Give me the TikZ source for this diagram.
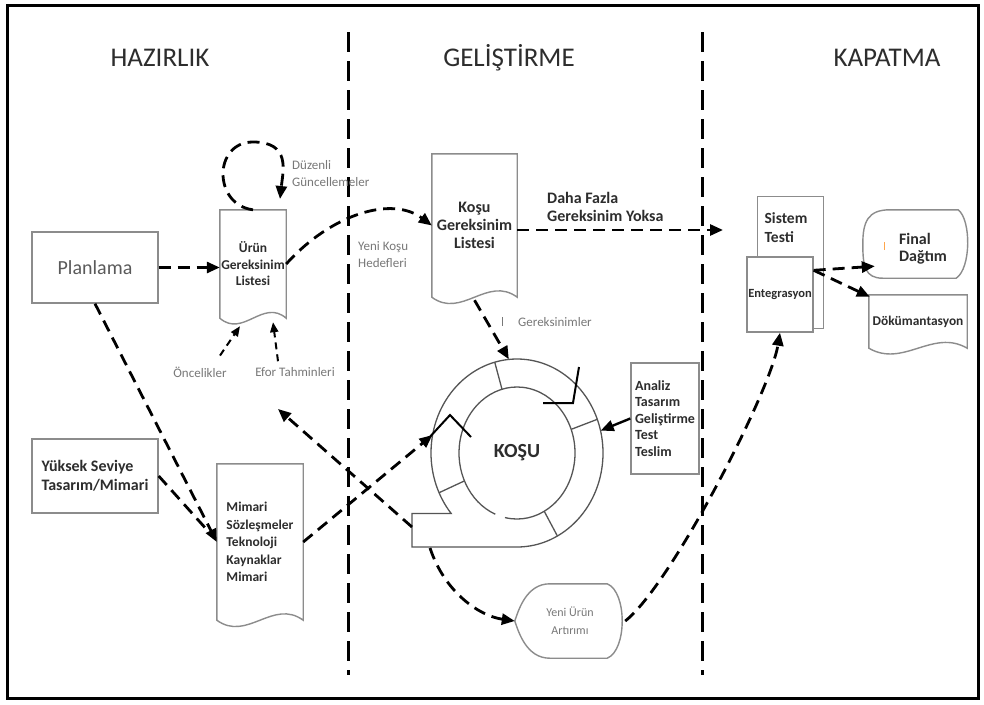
\documentclass[tikz,border=0pt]{standalone}
\usepackage{fontspec}
\setmainfont{Carlito}
\usetikzlibrary{arrows.meta,calc,shapes.geometric}

\definecolor{edge}{RGB}{140,140,140}
\definecolor{labelgray}{RGB}{120,120,120}
\definecolor{ink}{RGB}{45,45,45}
\definecolor{ringc}{RGB}{85,85,85}
\definecolor{plang}{RGB}{90,90,90}

\newcommand\szf[2]{\fontsize{#1}{#2}\selectfont}

% document symbol: straight sides, wavy bottom edge
\newcommand\docoutline[2]{%
  \draw[boxline] (#1.south west) -- (#1.north west) -- (#1.north east) -- (#1.south east)
    .. controls ($(#1.south east)!0.35!(#1.south west)+(0,-#2)$) and ($(#1.south east)!0.65!(#1.south west)+(0,#2)$) .. (#1.south west) -- cycle;}

\tikzset{
  flow/.style={line width=2.8pt, dash pattern=on 12pt off 7pt, -{Triangle[length=13pt,width=11pt]}},
  flowplain/.style={line width=2.8pt, dash pattern=on 12pt off 7pt},
  thinflow/.style={line width=2pt, dash pattern=on 7pt off 5pt, -{Triangle[length=10pt,width=8pt]}},
  solidflow/.style={line width=2.4pt, -{Triangle[length=13pt,width=11pt]}},
  divider/.style={line width=3pt, dash pattern=on 20pt off 9pt},
  boxline/.style={draw=edge, line width=1.4pt},
  box/.style={boxline, rectangle, inner sep=0pt},
  plain/.style={draw=none, rectangle, inner sep=0pt},
  heading/.style={font=\szf{27}{32}, text=ink, anchor=base},
  note/.style={font=\szf{13}{17}, text=labelgray, inner sep=0pt, align=left},
  ringline/.style={draw=ringc, line width=1.3pt},
  chevron/.style={draw=black, line width=2pt}
}

\begin{document}
\begin{tikzpicture}[x=1pt, y=-1pt]
\useasboundingbox (0,0) rectangle (984,704);
\fill[white] (0,0) rectangle (984,704);
\draw[line width=3pt] (7.5,5) rectangle (978.5,698);

% phase headings and boundaries
\node[heading] (hzr) at (160,66) {HAZIRLIK};
\node[heading] (glt) at (509,66) {GELİŞTİRME};
\node[heading] (kpt) at (887,66) {KAPATMA};
\draw[divider] (348,32) -- (348,675);
\draw[divider] (702,32) -- (702,675);

% ---------- HAZIRLIK ----------
\node[box, minimum width=126, minimum height=71, font=\szf{20}{24}, text=plang] (plan) at (95,267.5) {Planlama};
\node[box, minimum width=126, minimum height=74, font=\bfseries\szf{16}{19}, text=ink, align=left] (yuksek) at (95,476) {Yüksek Seviye\\Tasarım/Mimari};

\node[plain, minimum width=66, minimum height=108, font=\bfseries\szf{13.5}{16.5}, text=ink, align=center] (uerun) at (253,264) {Ürün\\Gereksinim\\Listesi};
\docoutline{uerun}{20}

\node[plain, minimum width=86, minimum height=156, font=\bfseries\szf{13.5}{17.5}, text=ink, align=left] (mimari) at (260,542) {Mimari\\Sözleşmeler\\Teknoloji\\Kaynaklar\\Mimari};
\docoutline{mimari}{22}

\node[note, anchor=west] (duzenli) at (292,174) {Düzenli\\Güncellemeler};
\node[note, anchor=center] (oncelik) at (200,372) {Öncelikler};
\node[note, anchor=center] (efor) at (295,372) {Efor Tahminleri};

% ---------- GELİŞTİRME ----------
\node[plain, minimum width=85, minimum height=143, font=\bfseries\szf{16}{18}, text=ink, align=center] (kgl) at (474.5,225.5) {Koşu\\Gereksinim\\Listesi};
\docoutline{kgl}{22}

\node[note, anchor=west] (hedef) at (358,254.5) {Yeni Koşu\\Hedefleri};
\node[font=\bfseries\szf{16}{18}, text=ink, inner sep=0pt, align=left, anchor=west] (daha) at (547,207) {Daha Fazla\\Gereksinim Yoksa};
\node[note, anchor=west] (gerek) at (518,322) {Gereksinimler};
\draw[labelgray, line width=0.7pt] (502,317) -- (502,326);

\node[box, minimum width=68, minimum height=111, font=\bfseries\szf{14}{16.5}, text=ink, align=left] (analiz) at (665,418.5) {Analiz\\Tasarım\\Geliştirme\\Test\\Teslim};

\node[plain, ellipse, minimum width=172, minimum height=188, font=\bfseries\szf{20}{24}, text=ink] (kosu) at (517,453) {KOŞU};

% sprint cycle: ring, segment dividers, flow marks and tail
\begin{scope}[shift={(kosu.center)}, yscale=-1]
  \draw[ringline] (0,-94) arc[start angle=270, end angle=580, x radius=86, y radius=94]
    -- (-105,-60.42) -- (-105,-94) -- cycle;
  \draw[ringline] (-12.06,-64.56) arc[start angle=258, end angle=608, x radius=58, y radius=66];
  \draw[ringline] (-15.01,63.75) -- (-22.26,90.80);
  \draw[ringline] (54.15,23.65) -- (80.29,33.69);
  \draw[ringline] (-52.57,-27.89) -- (-77.94,-39.72);
  \draw[ringline] (27.23,-58.27) -- (40.38,-82.99);
  \draw[chevron] (26,50) -- (56,50) -- (62,86);
  \draw[chevron] (-90,13) -- (-67,38) -- (-46,16);
  \coordinate (tailtop) at (-105,-74);
  \coordinate (tailbot) at (-87,-95);
\end{scope}

\node[plain, minimum width=110, minimum height=74, font=\szf{12}{18}, text=labelgray, align=center] (yeni) at (570,621) {Yeni Ürün\\Artırımı};
\draw[boxline] ($(yeni.north west)+(35,0)$) -- ($(yeni.north east)+(-18,0)$)
  .. controls ($(yeni.north east)+(2,8)$) and ($(yeni.south east)+(2,-8)$) .. ($(yeni.south east)+(-18,0)$)
  -- ($(yeni.south west)+(35,0)$)
  .. controls ($(yeni.south west)+(12,0)$) and ($(yeni.west)+(4,12)$) .. (yeni.west)
  .. controls ($(yeni.west)+(4,-12)$) and ($(yeni.north west)+(12,0)$) .. ($(yeni.north west)+(35,0)$) -- cycle;

% ---------- KAPATMA ----------
\node[box, minimum width=66, minimum height=132, anchor=north west] (sistem) at (757,196) {};
\node[font=\bfseries\szf{15.5}{19}, text=ink, inner sep=0pt, align=left] (sistemtxt) at (786,227.5) {Sistem\\Testi};
\node[box, fill=white, minimum width=66, minimum height=75, font=\bfseries\szf{12.5}{15}, text=ink] (entegr) at (780,294.5) {Entegrasyon};

\node[plain, minimum width=105, minimum height=68] (final) at (915.5,244) {};
\draw[boxline] ($(final.north west)+(27,0)$) -- ($(final.north east)+(-10,0)$)
  .. controls ($(final.north east)+(3,10)$) and ($(final.south east)+(3,-10)$) .. ($(final.south east)+(-12,0)$)
  -- ($(final.south west)+(20,0)$)
  .. controls ($(final.south west)+(2,0)$) and ($(final.west)+(0,22)$) .. (final.west)
  .. controls ($(final.west)+(0,-22)$) and ($(final.north west)+(5,0)$) .. ($(final.north west)+(27,0)$) -- cycle;
\node[font=\bfseries\szf{16}{17}, text=ink, inner sep=0pt, align=left] (finaltxt) at (923,248.5) {Final\\Dağtım};
\draw[orange!70, line width=0.7pt] (884,242) -- (884,250);

\node[plain, minimum width=98, minimum height=53, font=\bfseries\szf{13.4}{16}, text=ink] (doku) at (918,321.5) {Dökümantasyon};
\docoutline{doku}{20}

% ---------- connectors ----------
\coordinate (looptop) at (253,142);
\coordinate (loopin) at (280,199);
\coordinate (noreq) at (723,230);
\coordinate (eforend) at (278,409);

\draw[flow] (uerun.north) .. controls +(-40,-5) and +(-40,0) .. (looptop)
  .. controls +(38,0) and +(3,-28) .. (loopin);
\draw[flow] (plan.east) -- (plan.east -| uerun.west);
\draw[flow] (plan.south) -- (mimari.west);
\draw[flowplain] (yuksek.east) -- ($(mimari.west)+(-7,-9)$);
\draw[thinflow] ($(oncelik.north)+(20,-11)$) -- ($(uerun.south)+(-13,8)$);
\draw[thinflow] ($(efor.north)+(-17,-6)$) -- ($(uerun.south)+(20,4)$);

\draw[flow] (uerun.east) .. controls +(45,-50) and +(-40,-30) .. (kgl.west);
\draw[flow] ($(kgl.east)+(0,4.5)$) -- (noreq);
\draw[flow] ($(kgl.south)+(0,3)$) -- (kosu.95);
\draw[solidflow] (analiz.west) -- (kosu.15);
\draw[flow] (mimari.east) -- (kosu.168);
\draw[flow] (tailtop) -- (eforend);
\draw[flow] (tailbot) .. controls +(15,45) and +(-35,-5) .. (yeni.west);
\draw[flow] (yeni.east) .. controls +(45,-35) and +(-10,60) .. (entegr.south);

\draw[flow] ($(entegr.north east)+(0,14)$) -- ($(final.south west)+(12,-12)$);
\draw[flow] ($(entegr.north east)+(0,14)$) -- ($(doku.north west)+(1,2)$);
\end{tikzpicture}
\end{document}
